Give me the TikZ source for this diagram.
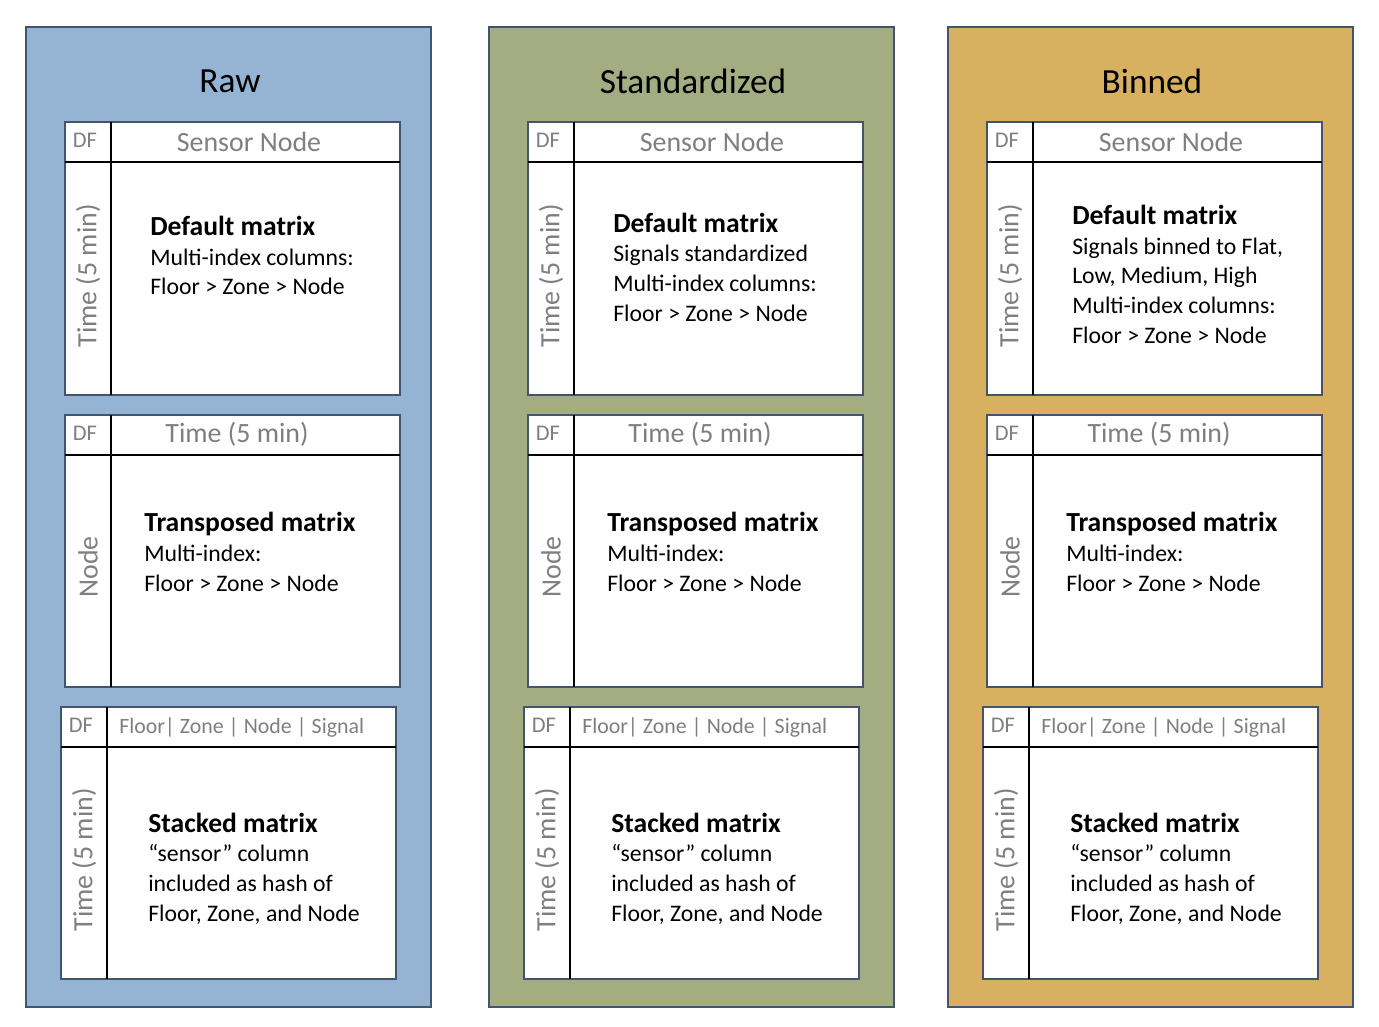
\documentclass[tikz,border=0pt]{standalone}
\usepackage{fontspec}
\setmainfont{Carlito}
\definecolor{rawblue}{HTML}{95B3D3}
\definecolor{stdgreen}{HTML}{A4AC81}
\definecolor{bingold}{HTML}{D7B160}
\definecolor{edge}{HTML}{44546A}
\definecolor{hdr}{HTML}{7F7F7F}

\begin{document}
\begin{tikzpicture}[x=0.75pt,y=-0.75pt]
  \tikzstyle{panel}=[draw=edge,line width=1.5pt]
  \tikzstyle{tbl}=[draw=edge,line width=1.5pt,fill=white]
  \tikzstyle{sep}=[draw=black,line width=0.8pt]
  \tikzstyle{ttl}=[inner sep=0pt,font=\fontsize{26.5}{30}\selectfont]
  \tikzstyle{df}=[inner sep=0pt,text=hdr,font=\fontsize{16.8}{20}\selectfont]
  \tikzstyle{hd}=[inner sep=0pt,text=hdr,font=\fontsize{20.9}{24}\selectfont]
  \tikzstyle{shd}=[inner sep=0pt,text=hdr,font=\fontsize{16.4}{20}\selectfont]
  \tikzstyle{vhd}=[hd,rotate=90]
  % base anchor sits on the last line
  \tikzstyle{body}=[inner sep=0pt,align=left,anchor=base west,font=\fontsize{17.8}{22.2}\selectfont]
  \newcommand{\bhead}[1]{{\fontsize{20.7}{22.2}\bfseries #1}}

  \path[fill=white] (0,0) rectangle (1379,1027);

  \foreach \n/\ox/\col/\ttl/\by/\txt in {
      raw/26/rawblue/Raw/295/{Multi-index columns:\\Floor > Zone > Node},
      std/489/stdgreen/Standardized/321/{Signals standardized\\Multi-index columns:\\Floor > Zone > Node},
      bin/948/bingold/Binned/343/{Signals binned to Flat,\\Low, Medium, High\\Multi-index columns:\\Floor > Zone > Node}} {
    \begin{scope}[xshift=\ox*0.75pt]
      % panel
      \draw[panel,fill=\col] (0,27) rectangle (405,1007);
      \node[ttl] (\n-title) at (204,81) {\ttl};

      % default matrix
      \draw[tbl] (39,122) rectangle (374,395);
      \draw[sep] (39,162) -- (374,162) (85,122) -- (85,395);
      \node[df] (\n-df1) at (59,140) {DF};
      \node[hd] (\n-col1) at (223,142) {Sensor Node};
      \node[vhd] (\n-row1) at (62,276) {Time (5 min)};
      \node[body] (\n-txt1) at (124,\by) {\bhead{Default matrix}\\\txt};

      % transposed matrix
      \draw[tbl] (39,415) rectangle (374,687);
      \draw[sep] (39,455) -- (374,455) (85,415) -- (85,687);
      \node[df] (\n-df2) at (59,433) {DF};
      \node[hd] (\n-col2) at (211,434) {Time (5 min)};
      \node[vhd] (\n-row2) at (62,567) {Node};
      \node[body] (\n-txt2) at (118,591) {\bhead{Transposed matrix}\\Multi-index:\\Floor > Zone > Node};

      % stacked matrix
      \draw[tbl] (35,707) rectangle (370,979);
      \draw[sep] (35,747) -- (370,747) (81,707) -- (81,979);
      \node[df] (\n-df3) at (55,725) {DF};
      \node[shd,anchor=west] (\n-col3) at (93,727) {Floor| Zone | Node | Signal};
      \node[vhd] (\n-row3) at (58,860) {Time (5 min)};
      \node[body] (\n-txt3) at (122,921) {\bhead{Stacked matrix}\\``sensor'' column\\included as hash of\\Floor, Zone, and Node};
    \end{scope}
  }
\end{tikzpicture}
\end{document}
